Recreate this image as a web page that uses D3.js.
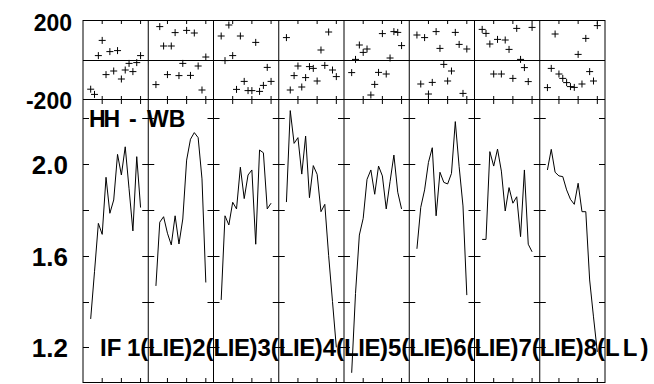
<!DOCTYPE html>
<html>
<head>
<meta charset="utf-8">
<script src="https://cdn.jsdelivr.net/npm/d3@7"></script>
<style>
  html, body { margin: 0; padding: 0; background: #fff; }
  svg { display: block; }
  text { font-family: "Liberation Sans", Arial, sans-serif; font-weight: bold; fill: #000; }
</style>
</head>
<body>
<svg id="chart" width="654" height="384"></svg>
<script>
// ---------------- data ----------------
const ifNames = ["1", "2", "3", "4", "5", "6", "7", "8"];
const ifPols = ["LIE", "LIE", "LIE", "LIE", "LIE", "LIE", "LIE", "LL"];
const channels = [2, 3, 4, 5, 6, 7, 8, 9, 10, 11, 12, 13, 14, 15];
const channelTicks = [5, 10, 15];
const phaseTickLabels = [200, -200];
const ampTickLabels = [1.2, 1.6, 2.0];
const ampMinorTicks = [1.2, 1.4, 1.6, 1.8, 2.0, 2.2];

const phaseIF1 = [-146, -172, 22, 98, -73, 42, -55, 47, -95, -50, -17, -58, -13, 22];
const phaseIF2 = [-123, 167, 70, -73, 70, 137, -78, -17, 148, -77, 135, -30, -150, 15];
const phaseIF3 = [120, -3, 175, 22, -147, 120, -107, -153, -153, 88, -157, -127, -37, -107];
const phaseIF4 = [112, -150, -78, -30, -135, -88, -33, -42, -105, 50, -27, 140, -50, -83];
const phaseIF5 = [-63, 3, 75, 38, 55, -175, -122, -62, 132, -70, 10, 142, 138, 72];
const phaseIF6 = [125, -120, 112, -170, -112, 142, 58, -22, -105, -55, 138, 78, -167, 55];
const phaseIF7 = [153, 133, 80, -70, 103, -70, 100, 53, -92, 158, 3, -38, -108, 163];
const phaseIF8 = [-138, -42, 130, -70, -92, -113, -133, -137, 28, -120, 108, -58, -105, 172];

const ampIF1 = [1.324, 1.53, 1.741, 1.693, 1.942, 1.785, 1.843, 2.042, 1.952, 2.075, 1.892, 1.708, 2.032, 1.81];
const ampIF2 = [1.468, 1.746, 1.770, 1.698, 1.647, 1.774, 1.651, 1.760, 2.017, 2.108, 2.137, 2.115, 1.935, 1.483];
const ampIF3 = [1.407, 1.774, 1.734, 1.833, 1.804, 1.986, 1.849, 1.952, 1.974, 1.650, 2.061, 2.049, 1.804, 1.829];
const ampIF4 = [1.834, 2.233, 2.090, 2.115, 1.956, 2.122, 1.853, 1.993, 1.955, 1.792, 1.824, 1.60, 1.40, 1.20];
const ampIF5 = [1.089, 1.435, 1.690, 1.763, 1.933, 1.974, 1.868, 1.991, 1.948, 1.804, 1.923, 2.039, 1.877, 1.804];
const ampIF6 = [1.63, 1.811, 1.887, 2.007, 2.071, 1.774, 1.964, 1.920, 1.913, 1.959, 2.185, 1.988, 1.817, 1.428];
const ampIF7 = [1.671, 1.671, 2.054, 1.991, 2.065, 1.969, 1.795, 1.897, 1.829, 1.857, 1.683, 1.974, 1.650, 1.617];
const ampIF8 = [1.974, 2.064, 1.964, 1.948, 1.945, 1.887, 1.846, 1.824, 1.916, 1.792, 1.792, 1.494, 1.333, 1.18];

const sourceParts = ["HH", "-", "WB"];

const phases = [phaseIF1, phaseIF2, phaseIF3, phaseIF4, phaseIF5, phaseIF6, phaseIF7, phaseIF8];
const amps = [ampIF1, ampIF2, ampIF3, ampIF4, ampIF5, ampIF6, ampIF7, ampIF8];

// ---------------- layout ----------------
const L = 83, R = 605, T = 20, MID = 60, SPLIT = 100, B = 383;
const slots = 17; // channel slots per IF panel

const svg = d3.select("#chart");

const x = d3.scaleLinear().domain([0, ifNames.length * slots]).range([L, R]);
const yPhase = d3.scaleLinear().domain([-200, 200]).range([SPLIT, T]);
const yAmp = d3.scaleLinear().domain([2.0 - 219 / 229.2, 2.0 + 64 / 229.2]).range([B, SPLIT]);

const g = svg.append("g");

// frame
const frame = g.append("g").attr("stroke", "#000").attr("stroke-width", 1).attr("fill", "none");
frame.append("line").attr("x1", L).attr("x2", R).attr("y1", T + 0.5).attr("y2", T + 0.5);
frame.append("line").attr("x1", L).attr("x2", R).attr("y1", MID + 0.5).attr("y2", MID + 0.5);
frame.append("line").attr("x1", L).attr("x2", R).attr("y1", SPLIT - 0.5).attr("y2", SPLIT - 0.5);
frame.append("line").attr("x1", L).attr("x2", R).attr("y1", B - 0.5).attr("y2", B - 0.5);

// vertical panel borders
const borders = d3.range(ifNames.length + 1).map(i => x(i * slots));
frame.selectAll("line.v").data(borders).enter().append("line")
  .attr("class", "v")
  .attr("x1", d => d).attr("x2", d => d)
  .attr("y1", T).attr("y2", B);

// channel ticks
const chTickPos = [];
ifNames.forEach((n, i) => channelTicks.forEach(c => chTickPos.push(x(i * slots + c))));
const ticks = g.append("g").attr("stroke", "#000").attr("stroke-width", 1);
chTickPos.forEach(px => {
  ticks.append("line").attr("x1", px).attr("x2", px).attr("y1", T).attr("y2", T + 4);
  ticks.append("line").attr("x1", px).attr("x2", px).attr("y1", SPLIT - 4).attr("y2", SPLIT + 4);
  ticks.append("line").attr("x1", px).attr("x2", px).attr("y1", B - 5).attr("y2", B);
});

// amplitude y ticks on all borders
borders.forEach((bx, i) => {
  ampMinorTicks.forEach(v => {
    const py = Math.round(yAmp(v)) + 0.5;
    const left = i === 0 ? 0 : 6;
    const right = i === borders.length - 1 ? 0 : 6;
    ticks.append("line").attr("x1", bx - left).attr("x2", bx + right).attr("y1", py).attr("y2", py);
  });
});

// phase markers
const phasePts = [];
phases.forEach((arr, i) => arr.forEach((v, k) => phasePts.push({ px: x(i * slots + channels[k]), py: yPhase(v) })));
g.append("g").selectAll("path").data(phasePts).enter().append("path")
  .attr("d", d => `M${d.px - 3.5},${d.py}H${d.px + 3.5}M${d.px},${d.py - 3.5}V${d.py + 3.5}`)
  .attr("stroke", "#000").attr("stroke-width", 1).attr("fill", "none");

// amplitude lines
const line = d3.line().x(d => d.px).y(d => d.py);
amps.forEach((arr, i) => {
  const pts = arr.map((v, k) => ({ px: x(i * slots + channels[k]), py: yAmp(v) }));
  g.append("path").datum(pts).attr("d", line)
    .attr("fill", "none").attr("stroke", "#000").attr("stroke-width", 1)
    .attr("stroke-linejoin", "miter");
});

// y labels
g.append("g").selectAll("text").data(phaseTickLabels).enter().append("text")
  .attr("x", 72).attr("y", d => yPhase(d) + (d > 0 ? 11 : 9))
  .attr("text-anchor", "end").attr("font-size", 23)
  .text(d => d);

g.append("g").selectAll("text").data(ampTickLabels).enter().append("text")
  .attr("x", 68).attr("y", d => yAmp(d) + 10)
  .attr("text-anchor", "end").attr("font-size", 26)
  .text(d => d.toFixed(1));

// source label "HH - WB"
const src = g.append("text").attr("y", 127).attr("font-size", 23);
src.append("tspan").attr("x", 89).attr("letter-spacing", -2).text(sourceParts[0]);
src.append("tspan").attr("x", 129).text(sourceParts[1]);
src.append("tspan").attr("x", 147).text(sourceParts[2]);

// bottom label: "IF 1(LIE)2(LIE)...8(LL)"
g.append("text").attr("x", 100).attr("y", 356).attr("font-size", 24).text("IF");
ifNames.forEach((n, i) => {
  const t = g.append("text").attr("x", x(i * slots) + 44).attr("y", 356).attr("font-size", 24);
  t.append("tspan").text(n + "(");
  t.append("tspan").attr("letter-spacing", ifPols[i] === "LL" ? 3 : -0.5).text(ifPols[i]);
  t.append("tspan").text(")");
});
</script>
</body>
</html>
